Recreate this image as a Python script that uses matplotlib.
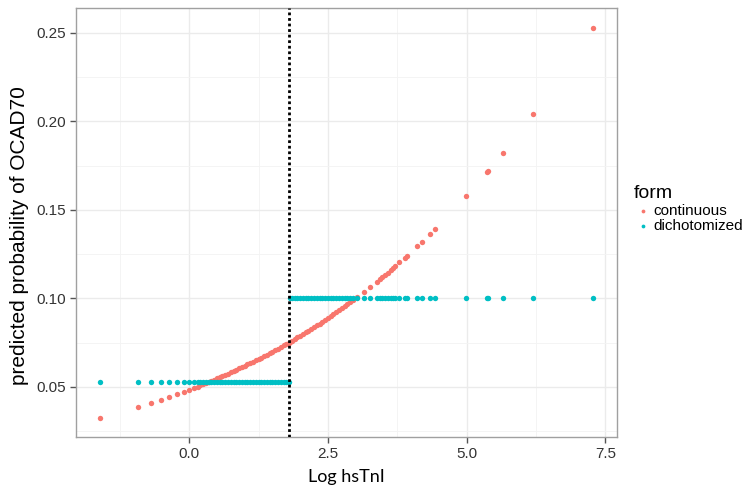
import numpy as np
import matplotlib.pyplot as plt
from matplotlib.ticker import MultipleLocator

plt.rcParams['font.family'] = ['Liberation Sans', 'DejaVu Sans']

# x values (Log hsTnI) shared by both forms
log_tni = [-1.60, -0.92, -0.69, -0.50, -0.355, -0.22, -0.10, 0.005, 0.09,
           0.15, 0.20, 0.25, 0.30, 0.35, 0.40, 0.45, 0.50, 0.55, 0.60,
           0.65, 0.70, 0.75, 0.80, 0.85, 0.90, 0.95, 1.00, 1.05, 1.10,
           1.15, 1.20, 1.25, 1.30, 1.35, 1.40, 1.45, 1.50, 1.55, 1.60,
           1.65, 1.70, 1.75, 1.79,
           1.81, 1.85, 1.90, 1.95, 2.00, 2.05, 2.10, 2.15, 2.20, 2.25,
           2.30, 2.35, 2.40, 2.45, 2.50, 2.55, 2.60, 2.65, 2.70, 2.75,
           2.80, 2.85, 2.90, 2.95, 3.02, 3.15, 3.26, 3.38, 3.43, 3.48,
           3.53, 3.58, 3.63, 3.68, 3.71, 3.79, 3.89, 3.93, 4.11, 4.19,
           4.34, 4.43, 4.99, 5.36, 5.39, 5.65, 6.19, 7.27]

# predicted probability, continuous form
p_continuous = [0.0324, 0.0385, 0.0407, 0.0427, 0.0443, 0.0458, 0.0472, 0.0484, 0.0495,
                0.0502, 0.0508, 0.0515, 0.0521, 0.0528, 0.0534, 0.0541, 0.0548, 0.0554, 0.0561,
                0.0568, 0.0575, 0.0582, 0.0590, 0.0597, 0.0604, 0.0612, 0.0619, 0.0627, 0.0635,
                0.0642, 0.0650, 0.0658, 0.0666, 0.0675, 0.0683, 0.0691, 0.0700, 0.0708, 0.0717,
                0.0725, 0.0734, 0.0743, 0.0750,
                0.0754, 0.0761, 0.0771, 0.0780, 0.0789, 0.0799, 0.0809, 0.0818, 0.0828, 0.0838,
                0.0848, 0.0858, 0.0869, 0.0879, 0.0890, 0.0900, 0.0911, 0.0922, 0.0933, 0.0944,
                0.0955, 0.0967, 0.0978, 0.0990, 0.1006, 0.1037, 0.1064, 0.1094, 0.1107, 0.1120,
                0.1133, 0.1146, 0.1160, 0.1173, 0.1181, 0.1203, 0.1231, 0.1242, 0.1294, 0.1318,
                0.1364, 0.1391, 0.1580, 0.1712, 0.1720, 0.1820, 0.2040, 0.2530]

# predicted probability, dichotomized form (cut at 1.8)
p_dichotomized = [0.0525] * 43 + [0.1003] * 48

cutoff = 1.8

fig = plt.figure(figsize=(7.54, 4.95), dpi=100)
ax = fig.add_axes([0.1008, 0.1172, 0.7175, 0.8666])

ax.scatter(log_tni, p_continuous, s=15, c='#F8766D', linewidths=0, label='continuous', zorder=3)
ax.scatter(log_tni, p_dichotomized, s=15, c='#00BFC4', linewidths=0, label='dichotomized', zorder=3)
ax.axvline(cutoff, color='black', lw=2, linestyle=(0, (1, 1)), zorder=4)

ax.set_xlim(-2.04, 7.71)
ax.set_ylim(0.0217, 0.2641)
ax.set_xticks([0.0, 2.5, 5.0, 7.5])
ax.set_xticklabels(['0.0', '2.5', '5.0', '7.5'])
ax.set_yticks([0.05, 0.10, 0.15, 0.20, 0.25])
ax.set_yticklabels(['0.05', '0.10', '0.15', '0.20', '0.25'])
ax.xaxis.set_minor_locator(MultipleLocator(1.25))
ax.yaxis.set_minor_locator(MultipleLocator(0.025))
ax.grid(which='major', color='#EBEBEB', lw=1.0)
ax.grid(which='minor', color='#F3F3F3', lw=0.6)
ax.set_axisbelow(True)
for sp in ax.spines.values():
    sp.set_color('#A0A0A0')
    sp.set_linewidth(1.0)
ax.tick_params(which='major', length=4, width=1, color='#555555', labelsize=11, labelcolor='#333333', pad=3)
ax.tick_params(which='minor', length=0)

ax.set_xlabel('Log hsTnI', fontsize=13, family=['Lato', 'DejaVu Sans'], labelpad=6)
ax.set_ylabel('predicted probability of OCAD70', fontsize=15)
ax.yaxis.set_label_coords(-0.087, 0.47)

leg = ax.legend(loc='upper left', bbox_to_anchor=(0.832, 0.638), bbox_transform=fig.transFigure,
                title='form', frameon=False, fontsize=11, title_fontsize=14,
                handletextpad=0.1, labelspacing=0.1, borderaxespad=0, markerscale=0.7,
                alignment='left', handlelength=1.2)

plt.savefig('out.png', dpi=100)
